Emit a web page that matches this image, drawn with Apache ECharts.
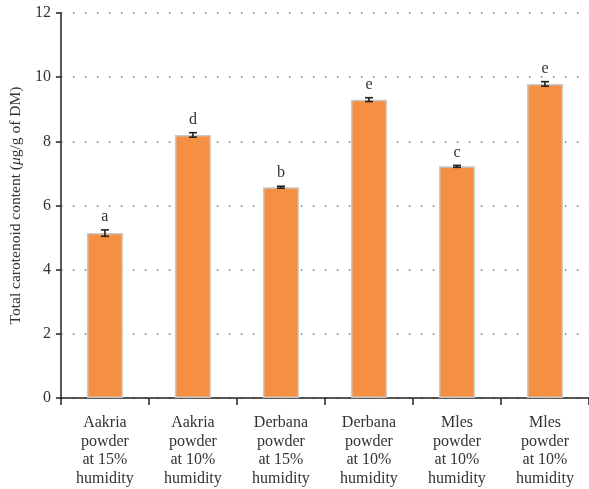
<!DOCTYPE html>
<html>
<head>
<meta charset="utf-8">
<script src="https://cdn.jsdelivr.net/npm/echarts@6/dist/echarts.min.js"></script>
<style>
  html, body { margin: 0; padding: 0; background: #fff; }
  #chart { width: 589px; height: 489px; }
</style>
</head>
<body>
<div id="chart"></div>
<script>
// Total carotenoid content by powder and humidity
const categories = [
  'Aakria\npowder\nat 15%\nhumidity',
  'Aakria\npowder\nat 10%\nhumidity',
  'Derbana\npowder\nat 15%\nhumidity',
  'Derbana\npowder\nat 10%\nhumidity',
  'Mles\npowder\nat 10%\nhumidity',
  'Mles\npowder\nat 10%\nhumidity'
];
const values = [5.14, 8.2, 6.57, 9.3, 7.22, 9.79];
const errors = [0.1, 0.07, 0.03, 0.06, 0.03, 0.07];
const letters = ['a', 'd', 'b', 'e', 'c', 'e'];
const yTicks = [0, 2, 4, 6, 8, 10, 12];

const serif = '"Liberation Serif", "DejaVu Serif", serif';
const chart = echarts.init(document.getElementById('chart'), null, { renderer: 'canvas' });

const errData = values.map((v, i) => [i, v, errors[i], letters[i]]);

chart.setOption({
  animation: false,
  grid: { left: 58, right: 0, top: 13, bottom: 91 },
  xAxis: {
    type: 'category',
    data: categories,
    axisLine: { lineStyle: { color: '#222', width: 1.5 } },
    axisTick: { show: true, alignWithLabel: false, length: 7, lineStyle: { color: '#222', width: 1.5 } },
    axisLabel: { color: '#333', fontFamily: serif, fontSize: 16, lineHeight: 18.5, margin: 16, interval: 0 }
  },
  yAxis: {
    type: 'value',
    min: yTicks[0],
    max: yTicks[yTicks.length - 1],
    interval: 2,
    name: '{n|Total carotenoid content (}{i|μ}{n|g/g of DM)}',
    nameLocation: 'middle',
    nameGap: 36,
    nameTextStyle: {
      rich: {
        n: { fontFamily: serif, fontSize: 15.5, color: '#333' },
        i: { fontFamily: serif, fontSize: 15.5, color: '#333', fontStyle: 'italic' }
      }
    },
    axisLine: { show: true, lineStyle: { color: '#222', width: 1.5 } },
    axisTick: { show: true, length: 5, lineStyle: { color: '#222', width: 1.5 } },
    axisLabel: { color: '#333', fontFamily: serif, fontSize: 16, margin: 10 },
    splitLine: { show: true, lineStyle: { color: '#777', width: 1.5, type: [1.5, 10.5] } }
  },
  series: [
    {
      type: 'bar',
      data: values,
      barWidth: 36,
      itemStyle: { color: '#F58F42', borderColor: '#c8c8c8', borderWidth: 1.5 }
    },
    {
      type: 'custom',
      data: errData,
      z: 10,
      renderItem: function (params, api) {
        const x = api.value(0);
        const v = api.value(1);
        const e = api.value(2);
        const hi = api.coord([x, v + e]);
        const lo = api.coord([x, v - e]);
        const cap = 4;
        const style = { stroke: '#222', lineWidth: 1.6 };
        return {
          type: 'group',
          children: [
            { type: 'line', shape: { x1: hi[0], y1: hi[1], x2: lo[0], y2: lo[1] }, style: style },
            { type: 'line', shape: { x1: hi[0] - cap, y1: hi[1], x2: hi[0] + cap, y2: hi[1] }, style: style },
            { type: 'line', shape: { x1: lo[0] - cap, y1: lo[1], x2: lo[0] + cap, y2: lo[1] }, style: style },
            {
              type: 'text',
              style: {
                text: api.value(3),
                x: hi[0],
                y: hi[1] - 5,
                align: 'center',
                verticalAlign: 'bottom',
                fill: '#333',
                font: '16px ' + serif
              }
            }
          ]
        };
      }
    }
  ]
});
</script>
</body>
</html>
